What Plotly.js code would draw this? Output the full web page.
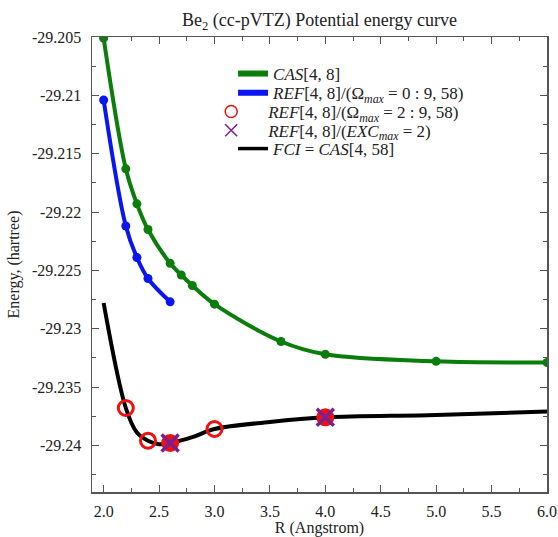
<!DOCTYPE html>
<html>
<head>
<meta charset="utf-8">
<script src="https://cdn.plot.ly/plotly-3.0.1.min.js"></script>
<style>html,body{margin:0;padding:0;background:#fff;}#chart{width:558px;height:537px;}</style>
</head>
<body>
<div id="chart"></div>
<script>
// CAS[4,8]
const casR = [2.0, 2.2, 2.3, 2.4, 2.6, 2.7, 2.8, 3.0, 3.6, 4.0, 5.0, 6.0];
const casE = [-29.2051, -29.2163, -29.2193, -29.2215, -29.2244, -29.2254, -29.2263, -29.2279, -29.2311, -29.2322, -29.2328, -29.2329];
// REF[4,8]/(Omega_max = 0 : 9,58)
const ref0R = [2.0, 2.2, 2.3, 2.4, 2.6];
const ref0E = [-29.2104, -29.2212, -29.2239, -29.2257, -29.2277];
// REF[4,8]/(Omega_max = 2 : 9,58)
const ref2R = [2.2, 2.4, 2.6, 3.0, 4.0];
const ref2E = [-29.2368, -29.2396, -29.2398, -29.2386, -29.2376];
// REF[4,8]/(EXC_max = 2)
const excR = [2.6, 4.0];
const excE = [-29.2398, -29.2376];
// FCI = CAS[4,58]
const fciR = [2.0, 2.2, 2.3, 2.4, 2.5, 2.6, 2.8, 3.0, 3.5, 4.0, 5.0, 6.0];
const fciE = [-29.2278, -29.2368, -29.2389, -29.2396, -29.2399, -29.2398, -29.2393, -29.2386, -29.2380, -29.2376, -29.2374, -29.2371];

const yTickVals = [-29.205, -29.21, -29.215, -29.22, -29.225, -29.23, -29.235, -29.24];
const yTickText = ["-29.205", "-29.21", "-29.215", "-29.22", "-29.225", "-29.23", "-29.235", "-29.24"];
const xTickVals = [2.0, 2.5, 3.0, 3.5, 4.0, 4.5, 5.0, 5.5, 6.0];
const xTickText = ["2.0", "2.5", "3.0", "3.5", "4.0", "4.5", "5.0", "5.5", "6.0"];

const PAD = "\u00a0\u00a0\u00a0\u00a0";
const names = [
  "<i>CAS</i>[4, 8]",
  "<i>REF</i>[4, 8]/(Ω<sub><i>max</i></sub> = 0 : 9, 58)",
  PAD + "<i>REF</i>[4, 8]/(Ω<sub><i>max</i></sub> = 2 : 9, 58)",
  PAD + "<i>REF</i>[4, 8]/(<i>EXC</i><sub><i>max</i></sub> = 2)",
  "<i>FCI</i> = <i>CAS</i>[4, 58]"
];

const SERIF = "Liberation Serif";
const green = "#0a7d0a", blue = "#0a16f0", red = "#f01010", purple = "#7a1f8f";

const traces = [
  {x: fciR, y: fciE, mode: "lines", line: {color: "#000", width: 4, shape: "spline", smoothing: 1}, showlegend: false, hoverinfo: "skip"},
  {x: casR, y: casE, mode: "lines+markers", line: {color: green, width: 4, shape: "spline", smoothing: 1}, marker: {color: green, size: 9}, showlegend: false},
  {x: ref0R, y: ref0E, mode: "lines+markers", line: {color: blue, width: 4, shape: "spline", smoothing: 1}, marker: {color: blue, size: 9}, showlegend: false},
  {x: ref2R, y: ref2E, mode: "markers", marker: {symbol: ["circle-open","circle-open","circle","circle-open","circle"], color: red, size: 15, line: {color: red, width: 3}}, showlegend: false},
  {x: excR, y: excE, mode: "markers", marker: {symbol: "x-thin", color: purple, size: 17, line: {color: purple, width: 3.5}}, showlegend: false},
  // legend entries
  {x: [null], y: [null], mode: "lines", name: names[0], legend: "legend", line: {color: green, width: 6}},
  {x: [null], y: [null], mode: "lines", name: names[1], legend: "legend2", line: {color: blue, width: 6}},
  {x: [null], y: [null], mode: "markers", name: names[2], legend: "legend3", marker: {symbol: "circle-open", color: red, size: 12, line: {color: red, width: 1.5}}},
  {x: [null], y: [null], mode: "markers", name: names[3], legend: "legend4", marker: {symbol: "x-thin", color: purple, size: 12, line: {color: purple, width: 1.5}}},
  {x: [null], y: [null], mode: "lines", name: names[4], legend: "legend5", line: {color: "#000", width: 3.5}}
];

const axisCommon = {
  showgrid: false, zeroline: false, showline: true, linecolor: "#555", linewidth: 1.5,
  mirror: "ticks", ticks: "inside", tickcolor: "#555", tickwidth: 1, ticklen: 7,
  tickfont: {family: SERIF, size: 16, color: "#222"}
};

function leg(xp, yp) {
  return {x: xp, y: yp, xanchor: "left", yanchor: "middle", bgcolor: "rgba(0,0,0,0)", borderwidth: 0,
    font: {family: SERIF, size: 17, color: "#222"}, itemwidth: 30};
}

const layout = {
  width: 558, height: 537,
  margin: {l: 92, r: 11, t: 37, b: 45},
  paper_bgcolor: "#fff", plot_bgcolor: "#fff",
  font: {family: SERIF, color: "#222"},
  title: {text: "Be<sub>2</sub> (cc-pVTZ) Potential energy curve", font: {family: SERIF, size: 18, color: "#222"}, x: 0.5725, xanchor: "center", y: 0.963, yanchor: "middle"},
  xaxis: Object.assign({}, axisCommon, {
    range: [1.895, 6.0], tickvals: xTickVals, ticktext: xTickText,
    minor: {dtick: 0.25, tick0: 0, ticks: "inside", ticklen: 4, tickcolor: "#555"},
    ticklabelstandoff: 4,
    title: {text: "R (Angstrom)", font: {family: SERIF, size: 16, color: "#222"}, standoff: 4}
  }),
  yaxis: Object.assign({}, axisCommon, {
    range: [-29.244, -29.205], tickvals: yTickVals, ticktext: yTickText,
    minor: {dtick: 0.0025, tick0: -29.2425, ticks: "inside", ticklen: 4, tickcolor: "#555"},
    ticklabelstandoff: 6,
    title: {text: "Energy, (hartree)", font: {family: SERIF, size: 16, color: "#222"}, standoff: 8}
  }),
  legend: leg(0.310, 0.9187),
  legend2: leg(0.310, 0.8763),
  legend3: leg(0.262, 0.8352),
  legend4: leg(0.262, 0.7941),
  legend5: leg(0.310, 0.7538),
  showlegend: true
};

Plotly.newPlot("chart", traces, layout, {displayModeBar: false, staticPlot: true});
</script>
</body>
</html>
